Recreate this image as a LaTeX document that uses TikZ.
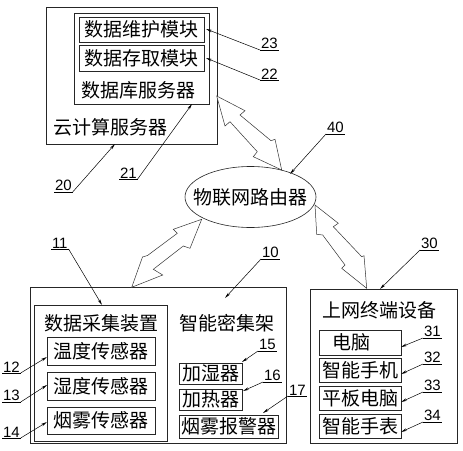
\documentclass[tikz,border=0pt]{standalone}
\usepackage{fontspec}
\newfontfamily\cjk{Noto Sans CJK SC}
\newfontfamily\numf{Liberation Sans}
\usetikzlibrary{arrows.meta,shapes.geometric}
\begin{document}
\begin{tikzpicture}[x=1pt,y=-1pt,
 box/.style={draw=black!85, line width=0.6pt, inner sep=0pt, outer sep=0pt, font=\cjk\fontsize{19}{19}\selectfont},
 txt/.style={font=\cjk\fontsize{19}{19}\selectfont, inner sep=0pt},
 lbl/.style={font=\numf\fontsize{15}{15}\selectfont, inner sep=1pt, outer sep=0pt, anchor=south west},
 uline/.style={line width=0.5pt},
 lead/.style={line width=0.5pt, -{Stealth[length=6pt,width=2.6pt]}},
 bolt/.style={draw=black!80, line width=0.5pt, line join=miter, fill=white},
]
\useasboundingbox (0,0) rectangle (463,450);
\fill[white] (0,0) rectangle (463,450);

% cloud server
\node[box, minimum width=171pt, minimum height=137pt] (cloud) at (131.5,75.5) {};
\node[box, minimum width=135pt, minimum height=91pt] (db) at (141.5,58.5) {};
\node[box, minimum width=125pt, minimum height=25pt] (m1) at (141.5,29.5) {数据维护模块};
\node[box, minimum width=125pt, minimum height=26pt] (m2) at (141.5,58) {数据存取模块};
\node[txt] (dbt) at (138,90) {数据库服务器};
\node[txt] (cloudt) at (110,127) {云计算服务器};

% router
\node[draw=black!85, line width=0.6pt, ellipse, minimum width=131pt, minimum height=61pt, inner sep=0pt] (router) at (250.5,197) {};
\node[txt] (routert) at (250,197) {物联网路由器};

% intelligent rack
\node[box, minimum width=256pt, minimum height=156pt] (rack) at (158,365) {};
\node[box, minimum width=133pt, minimum height=136pt] (daq) at (100.5,373) {};
\node[txt] (daqt) at (101,323) {数据采集装置};
\node[txt] (rackt) at (226.5,323) {智能密集架};
\node[box, minimum width=108pt, minimum height=28pt] (s1) at (101,351) {温度传感器};
\node[box, minimum width=108pt, minimum height=28pt] (s2) at (101,386) {湿度传感器};
\node[box, minimum width=108pt, minimum height=27pt] (s3) at (101,420.5) {烟雾传感器};
\node[box, minimum width=63pt, minimum height=21pt] (hum) at (210.5,373.5) {加湿器};
\node[box, minimum width=63pt, minimum height=21pt] (heat) at (210.5,399.5) {加热器};
\node[box, minimum width=99pt, minimum height=23pt] (alarm) at (228.5,426.5) {烟雾报警器};

% terminal devices
\node[box, minimum width=147pt, minimum height=154pt] (term) at (383.5,366) {};
\node[txt] (termt) at (379.5,310) {上网终端设备};
\node[box, minimum width=82pt, minimum height=25pt] (pc) at (360,342.5) {};
\node[txt] (pct) at (351,342.5) {电脑};
\node[box, minimum width=82pt, minimum height=24pt] (phone) at (360,370) {智能手机};
\node[box, minimum width=82pt, minimum height=24pt] (tablet) at (360,398) {平板电脑};
\node[box, minimum width=82pt, minimum height=24pt] (watch) at (360,426) {智能手表};

% lightning double arrows
\draw[bolt] (216.7,96) -- (245,110.7) -- (240,115) -- (271,140.7) -- (275,139.3) -- (281.7,170)
  -- (253.3,156.7) -- (257.3,151.7) -- (230,121.7) -- (225,126) -- cycle;
\draw[bolt] (315,205) -- (338.3,223.3) -- (333.3,226.7) -- (361.7,256.7) -- (364,255.7) -- (366.7,288.3)
  -- (341.7,268.3) -- (345,265) -- (322.7,235) -- (316.7,234.3) -- cycle;
\draw[bolt] (201.7,219.3) -- (173.3,229.3) -- (177.3,233.3) -- (147.5,255.5) -- (142.5,257) -- (131.7,287.3)
  -- (162.7,275) -- (153.3,269.3) -- (183.3,246) -- (190,248.3) -- cycle;

% reference numerals
\coordinate (t23) at (206,29);
\coordinate (t22) at (206,58);
\coordinate (t21) at (192,104);
\coordinate (t20) at (115,144);
\coordinate (t40) at (290,174);
\coordinate (t30) at (380,289);
\coordinate (t11) at (102,305);
\coordinate (t10) at (225,298);
\coordinate (t12) at (47,357);
\coordinate (t13) at (47,385);
\coordinate (t14) at (47,422);
\coordinate (t15) at (242,362);
\coordinate (t16) at (243,391);
\coordinate (t17) at (263,413);
\coordinate (t31) at (401,347);
\coordinate (t32) at (401,374);
\coordinate (t33) at (401,402);
\coordinate (t34) at (401,432);

\node[lbl] (n23) at (260,50) {23};
\node[lbl] (n22) at (260,80) {22};
\node[lbl] (n21) at (119,179) {21};
\node[lbl] (n20) at (54,192) {20};
\node[lbl] (n40) at (326,134) {40};
\node[lbl] (n30) at (420,250) {30};
\node[lbl] (n11) at (51,249) {11};
\node[lbl] (n10) at (261,259) {10};
\node[lbl] (n12) at (2,373) {12};
\node[lbl] (n13) at (2,402) {13};
\node[lbl] (n14) at (2,438) {14};
\node[lbl] (n15) at (258,351) {15};
\node[lbl] (n16) at (263,382) {16};
\node[lbl] (n17) at (288,396) {17};
\node[lbl] (n31) at (423,338) {31};
\node[lbl] (n32) at (423,364) {32};
\node[lbl] (n33) at (423,392) {33};
\node[lbl] (n34) at (423,422) {34};

\foreach \n in {23,22,21,20,40,30,11,10,12,13,14,15,16,17,31,32,33,34}
  \draw[uline] (n\n.south west) -- (n\n.south east);

\foreach \n in {23,22,40,30,10,15,16,17,31,32,33,34}
  \draw[lead] (n\n.south west) -- (t\n);
\foreach \n in {21,20,11,12,13,14}
  \draw[lead] (n\n.south east) -- (t\n);
\end{tikzpicture}
\end{document}
